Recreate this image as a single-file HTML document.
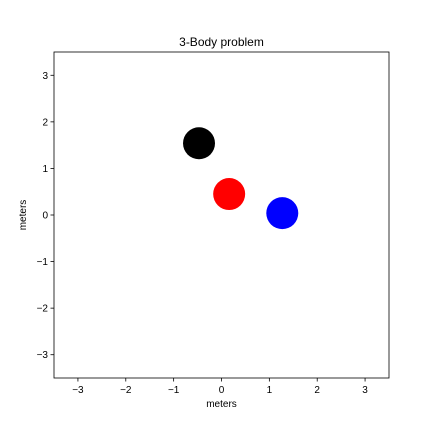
<!DOCTYPE html>
<html><head><meta charset="utf-8"><style>body{margin:0;background:#fff}svg{display:block;font-family:"Liberation Sans","DejaVu Sans",sans-serif}</style></head>
<body>
<svg id="c" width="432" height="432">
<rect width="432" height="432" fill="#fff"/>
<g id="g"></g>
</svg>
<script>
const bodyNames=["body-black","body-red","body-blue"];
const bodyX=[-0.47,0.16,1.27];
const bodyY=[1.54,0.45,0.04];
const bodyColors=["#000","#ff0000","#0000ff"];
const ticks=[-3,-2,-1,0,1,2,3];
const tickLabels=["\u22123","\u22122","\u22121","0","1","2","3"];
const L=54,R=389,T=52,B=378,min=-3.5,max=3.5;
const sx=v=>L+(v-min)/(max-min)*(R-L);
const sy=v=>B-(v-min)/(max-min)*(B-T);
const g=document.getElementById('g');const NS='http://www.w3.org/2000/svg';
function mk(t,a,txt){const e=document.createElementNS(NS,t);for(const k in a)e.setAttribute(k,a[k]);if(txt!=null)e.textContent=txt;g.appendChild(e);return e;}
bodyX.forEach((x,i)=>{const c=mk('circle',{cx:sx(x),cy:sy(bodyY[i]),r:16,fill:bodyColors[i]});

});
const f=mk('rect',{x:L,y:T,width:R-L,height:B-T,fill:'none',stroke:'#000','stroke-width':0.8});


ticks.forEach((t,i)=>{
mk('line',{x1:sx(t),x2:sx(t),y1:B,y2:B+3.5,stroke:'#000','stroke-width':0.8});
const a=mk('text',{x:sx(t),y:B+15,'font-size':10,'text-anchor':'middle'},tickLabels[i]);


mk('line',{x1:L-3.5,x2:L,y1:sy(t),y2:sy(t),stroke:'#000','stroke-width':0.8});
const b=mk('text',{x:L-6,y:sy(t)+3.5,'font-size':10,'text-anchor':'end'},tickLabels[i]);


});
const ti=mk('text',{x:(L+R)/2,y:46,'font-size':12,'text-anchor':'middle'},'3-Body problem');


const xl=mk('text',{x:(L+R)/2,y:407,'font-size':10,'text-anchor':'middle'},'meters');


const yl=mk('text',{x:26,y:(T+B)/2,'font-size':10,'text-anchor':'middle',transform:`rotate(-90 26 ${(T+B)/2})`},'meters');


</script>
</body></html>
